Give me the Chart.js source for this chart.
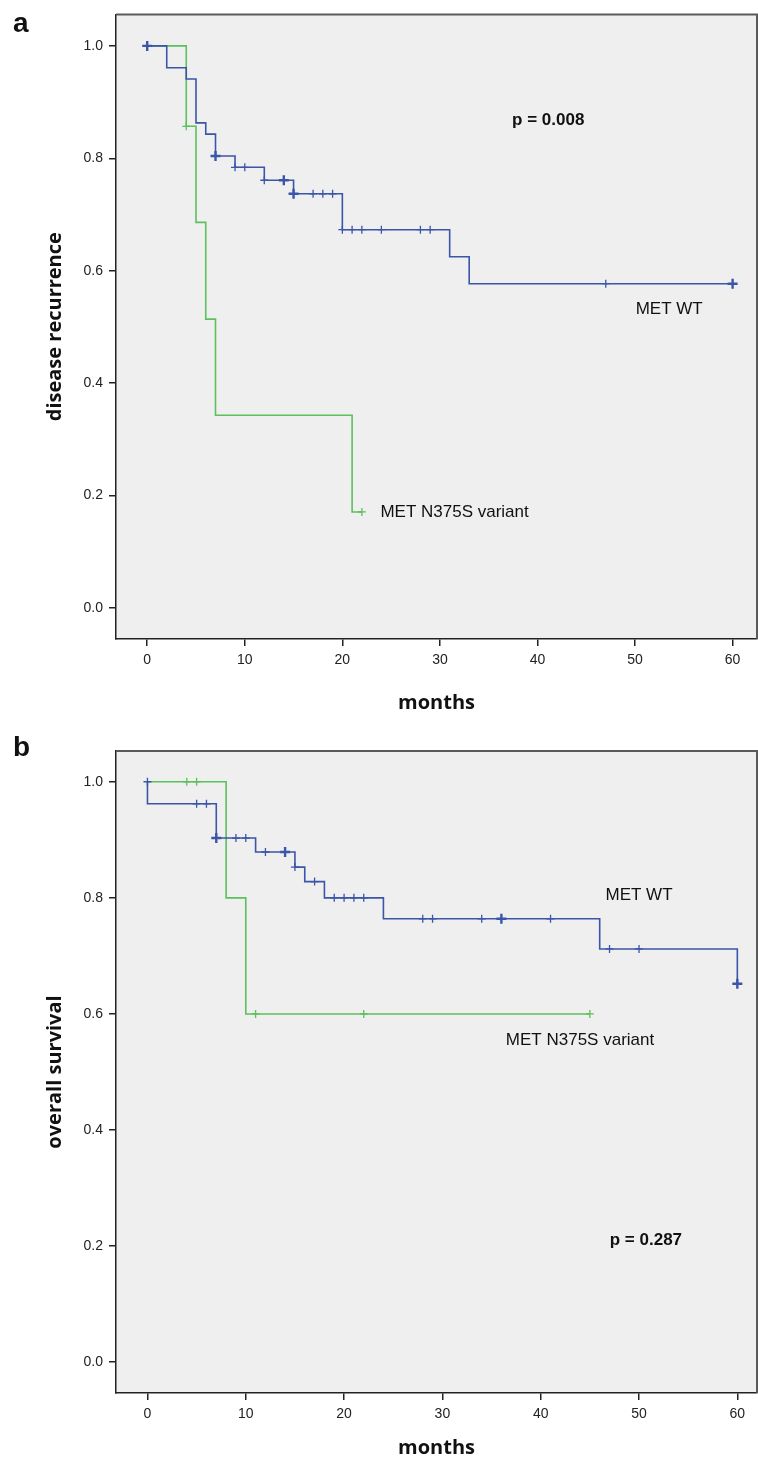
<!DOCTYPE html>
<html>
<head>
<meta charset="utf-8">
<script src="https://cdn.jsdelivr.net/npm/chart.js@4.4.0/dist/chart.umd.min.js"></script>
<style>
  html, body { margin: 0; padding: 0; background: #fff; }
  .panel { position: absolute; left: 0; width: 758px; }
  #panelA { top: 0; height: 730px; }
  #panelB { top: 730px; height: 731px; }
</style>
</head>
<body>
<div class="panel" id="panelA"><canvas id="recChart" width="758" height="730"></canvas></div>
<div class="panel" id="panelB"><canvas id="osChart" width="758" height="731"></canvas></div>
<script>
// axis ticks
const monthTicks = [0, 10, 20, 30, 40, 50, 60];
const probTicks = [0.0, 0.2, 0.4, 0.6, 0.8, 1.0];

// panel a - disease recurrence (event times + KM level after each step)
const recWtTimes = [0, 2, 4, 5, 6, 7, 9, 12, 15, 20, 31, 33];
const recWtSurv = [1.0, 0.961, 0.941, 0.863, 0.843, 0.804, 0.784, 0.761, 0.737, 0.673, 0.625, 0.577];
const recWtCensored = [0, 0, 7, 7, 9, 10, 12, 14, 14, 15, 15, 17, 18, 19, 20, 21, 22, 24, 28, 29, 47, 60, 60];

const recMutTimes = [0, 4, 5, 6, 7, 21];
const recMutSurv = [1.0, 0.857, 0.686, 0.514, 0.343, 0.171];
const recMutCensored = [4, 22];

// panel b - overall survival
const osWtTimes = [0, 0, 7, 11, 15, 16, 18, 24, 46, 60];
const osWtSurv = [1.0, 0.962, 0.903, 0.879, 0.853, 0.828, 0.800, 0.764, 0.712, 0.652];
const osWtCensored = [0, 5, 6, 7, 7, 9, 10, 12, 14, 14, 15, 17, 19, 20, 21, 22, 28, 29, 34, 36, 36, 41, 47, 50, 60, 60];

const osMutTimes = [0, 8, 10];
const osMutSurv = [1.0, 0.8, 0.6];
const osMutCensored = [4, 5, 11, 22, 45];

const BLUE = '#3b55a8';
const GREEN = '#5cc05c';

function kmLine(times, surv, censored) {
    const pts = times.map((t, i) => ({x: t, y: surv[i]}));
    const last = Math.max(...censored);
    if (last > times[times.length - 1]) pts.push({x: last, y: surv[surv.length - 1]});
    return pts;
}

function levelAt(times, surv, t) {
    if (t === 0) return surv[0];
    let v = surv[0];
    times.forEach((tt, i) => { if (tt <= t) v = surv[i]; });
    return v;
}

function censorMarks(times, surv, censored) {
    const counts = {};
    censored.forEach(t => { counts[t] = (counts[t] || 0) + 1; });
    return Object.keys(counts).map(Number).sort((a, b) => a - b)
        .map(t => ({x: t, y: levelAt(times, surv, t), n: counts[t]}));
}

function groupDatasets(times, surv, censored, color) {
    const marks = censorMarks(times, surv, censored);
    return [
        {
            data: kmLine(times, surv, censored),
            showLine: true, stepped: 'before',
            borderColor: color, borderWidth: 1.6, pointRadius: 0
        },
        {
            data: marks,
            showLine: false, pointStyle: 'cross',
            pointRadius: marks.map(m => m.n > 1 ? 5 : 4),
            pointBorderWidth: marks.map(m => m.n > 1 ? 2.4 : 1.3),
            borderColor: color, backgroundColor: color
        }
    ];
}

const framePlugin = {
    id: 'frame',
    beforeDraw(chart) {
        const {ctx, chartArea: a} = chart;
        ctx.save();
        ctx.fillStyle = '#efefef';
        ctx.fillRect(a.left, a.top, a.right - a.left, a.bottom - a.top);
        ctx.restore();
    },
    afterDraw(chart) {
        const {ctx, chartArea: a} = chart;
        ctx.save();
        ctx.strokeStyle = '#5a5a5a';
        ctx.lineWidth = 2;
        ctx.beginPath();
        ctx.moveTo(a.left, a.top);
        ctx.lineTo(a.right, a.top);
        ctx.lineTo(a.right, a.bottom);
        ctx.stroke();
        ctx.restore();
    }
};

const textPlugin = {
    id: 'textLabels',
    afterDatasetsDraw(chart, args, opts) {
        const {ctx, scales: {x, y}} = chart;
        ctx.save();
        ctx.fillStyle = '#111';
        ctx.textBaseline = 'middle';
        (opts.items || []).forEach(it => {
            ctx.font = it.font;
            ctx.textAlign = it.align || 'center';
            ctx.fillText(it.text, x.getPixelForValue(it.x), y.getPixelForValue(it.y));
        });
        if (opts.letter) {
            ctx.font = 'bold 28px "Liberation Sans", Arial, sans-serif';
            ctx.textAlign = 'left';
            ctx.textBaseline = 'alphabetic';
            ctx.fillText(opts.letter, 13, opts.letterY);
        }
        ctx.restore();
    }
};

function makeChart(id, cfg) {
    const tickFont = {family: '"Liberation Sans", Arial, sans-serif', size: 14};
    const titleFont = {family: '"Open Sans", sans-serif', size: 20, weight: 'bold'};
    new Chart(document.getElementById(id), {
        type: 'scatter',
        data: {datasets: cfg.datasets},
        plugins: [framePlugin, textPlugin],
        options: {
            responsive: false,
            animation: false,
            layout: {autoPadding: false, padding: {top: cfg.padTop, right: 1, left: 0, bottom: 0}},
            plugins: {
                legend: {display: false},
                tooltip: {enabled: false},
                textLabels: {items: cfg.labels, letter: cfg.letter, letterY: cfg.letterY}
            },
            scales: {
                x: {
                    type: 'linear', min: cfg.xMin, max: cfg.xMax,
                    afterBuildTicks: s => { s.ticks = monthTicks.map(v => ({value: v})); },
                    afterFit: s => { s.height = cfg.xHeight; },
                    grid: {display: true, drawOnChartArea: false, drawTicks: true, tickLength: 7, color: '#222', lineWidth: 1.5},
                    border: {display: true, color: '#222', width: 1.5},
                    ticks: {color: '#222', font: tickFont, padding: 6, maxRotation: 0},
                    title: {display: true, text: 'months', color: '#111', font: titleFont, padding: {top: 0, bottom: cfg.xTitlePad}}
                },
                y: {
                    type: 'linear', min: cfg.yMin, max: cfg.yMax,
                    afterBuildTicks: s => { s.ticks = probTicks.map(v => ({value: v})); },
                    afterFit: s => { s.width = 116; },
                    grid: {display: true, drawOnChartArea: false, drawTicks: true, tickLength: 7, color: '#222', lineWidth: 1.5},
                    border: {display: true, color: '#222', width: 1.5},
                    ticks: {color: '#222', font: tickFont, padding: 6, callback: v => v.toFixed(1)},
                    title: {display: true, text: cfg.yTitle, color: '#111', font: titleFont, padding: {top: 43, bottom: 0}}
                }
            }
        }
    });
}

makeChart('recChart', {
    datasets: [
        ...groupDatasets(recWtTimes, recWtSurv, recWtCensored, BLUE),
        ...groupDatasets(recMutTimes, recMutSurv, recMutCensored, GREEN)
    ],
    padTop: 14, xHeight: 91, xTitlePad: 15,
    xMin: -3.2, xMax: 62.5, yMin: -0.055, yMax: 1.056,
    yTitle: 'disease recurrence',
    letter: 'a', letterY: 32,
    labels: [
        {text: 'p = 0.008', x: 41.1, y: 0.867, font: 'bold 17px "Liberation Sans", Arial, sans-serif'},
        {text: 'MET WT', x: 53.5, y: 0.531, font: '17px "Liberation Sans", Arial, sans-serif'},
        {text: 'MET N375S variant', x: 23.9, y: 0.171, align: 'left', font: '17px "Liberation Sans", Arial, sans-serif'}
    ]
});

makeChart('osChart', {
    datasets: [
        ...groupDatasets(osWtTimes, osWtSurv, osWtCensored, BLUE),
        ...groupDatasets(osMutTimes, osMutSurv, osMutCensored, GREEN)
    ],
    padTop: 21, xHeight: 68, xTitlePad: 1,
    xMin: -3.2, xMax: 62.0, yMin: -0.053, yMax: 1.053,
    yTitle: 'overall survival',
    letter: 'b', letterY: 26,
    labels: [
        {text: 'p = 0.287', x: 50.7, y: 0.21, font: 'bold 17px "Liberation Sans", Arial, sans-serif'},
        {text: 'MET WT', x: 50.0, y: 0.805, font: '17px "Liberation Sans", Arial, sans-serif'},
        {text: 'MET N375S variant', x: 44.0, y: 0.555, font: '17px "Liberation Sans", Arial, sans-serif'}
    ]
});
</script>
</body>
</html>
